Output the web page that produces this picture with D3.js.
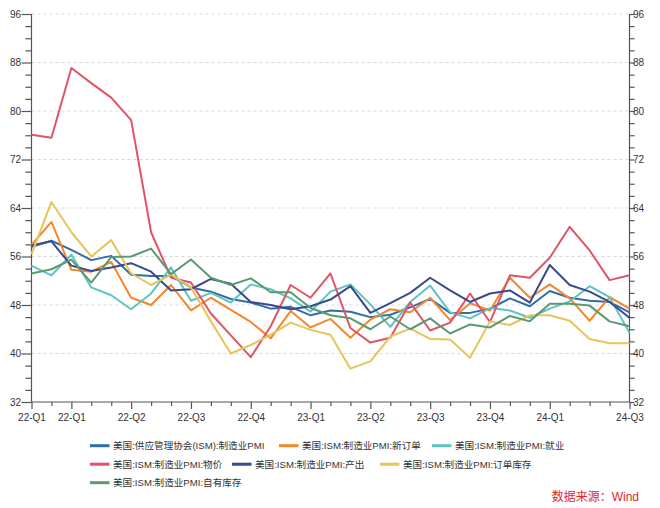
<!DOCTYPE html>
<html>
<head>
<meta charset="utf-8">
<script src="https://cdn.jsdelivr.net/npm/d3@7"></script>
<style>
  html, body { margin: 0; padding: 0; background: #fff; }
  svg { display: block; font-family: "Liberation Sans", "Noto Sans CJK SC", sans-serif; }
</style>
</head>
<body>
<svg id="chart" width="660" height="508"></svg>
<script>
// ---- data (monthly, Jan 2022 – Jul 2024) ----
const xLabels = ["22-Q1","","22-Q1","","","22-Q2","","","22-Q3","","","22-Q4","","","23-Q1","","","23-Q2","","","23-Q3","","","23-Q4","","","24-Q1","","","","24-Q3"];
const yTicks = [32, 40, 48, 56, 64, 72, 80, 88, 96];

const seriesNames = [
  "美国:供应管理协会(ISM):制造业PMI",
  "美国:ISM:制造业PMI:新订单",
  "美国:ISM:制造业PMI:就业",
  "美国:ISM:制造业PMI:物价",
  "美国:ISM:制造业PMI:产出",
  "美国:ISM:制造业PMI:订单库存",
  "美国:ISM:制造业PMI:自有库存"
];
const seriesColors = ["#2f6ea6", "#f5862a", "#5ec3c3", "#e05565", "#3b4a8a", "#e6c55a", "#5a9a70"];

const pmi        = [57.6,58.6,57.1,55.4,56.1,53.0,52.8,52.8,50.9,50.2,49.0,48.4,47.4,47.7,46.3,47.1,46.9,46.0,46.4,47.6,49.0,46.7,46.7,47.4,49.1,47.8,50.3,49.2,48.7,48.5,46.8];
const newOrders  = [57.9,61.7,53.8,53.5,55.1,49.2,48.0,51.3,47.1,49.2,47.2,45.2,42.5,47.0,44.3,45.7,42.6,45.6,47.3,46.8,49.2,45.5,48.3,47.1,52.5,49.2,51.4,49.1,45.4,49.3,47.4];
const employment = [54.5,52.9,56.3,50.9,49.6,47.3,49.9,54.2,48.7,50.0,48.4,51.4,50.6,49.1,46.9,50.2,51.4,48.1,44.4,48.5,51.2,46.8,45.8,47.5,47.1,45.9,47.4,48.6,51.1,49.3,43.4];
const prices     = [76.1,75.6,87.1,84.6,82.2,78.5,60.0,52.5,51.7,46.6,43.0,39.4,44.5,51.3,49.2,53.2,44.2,41.8,42.6,48.4,43.8,45.1,49.9,45.2,52.9,52.5,55.8,60.9,57.0,52.1,52.9];
const production = [57.8,58.5,54.5,53.6,54.2,54.9,53.5,50.4,50.6,52.3,51.5,48.5,48.0,47.3,47.8,48.9,51.1,46.7,48.3,50.0,52.5,50.4,48.5,49.9,50.4,48.4,54.6,51.3,50.2,48.5,45.9];
const backlog    = [56.4,65.0,60.0,56.0,58.7,53.2,51.3,53.0,50.9,45.3,40.0,41.4,43.1,45.1,43.9,43.1,37.5,38.7,42.8,44.1,42.4,42.3,39.3,45.3,44.7,46.3,46.3,45.4,42.4,41.7,41.7];
const inventories= [53.2,53.9,55.5,51.7,55.9,56.0,57.3,53.1,55.5,52.5,51.3,52.4,50.1,50.1,47.5,46.3,45.8,44.0,46.1,44.0,45.8,43.3,44.8,44.3,46.2,45.3,48.2,48.2,47.9,45.3,44.5];

const seriesValues = [pmi, newOrders, employment, prices, production, backlog, inventories];

// ---- layout ----
const svg = d3.select("#chart");
const mLeft = 31.5, mRight = 629.5, mTop = 14, mBottom = 402;

const x = d3.scalePoint().domain(d3.range(xLabels.length)).range([mLeft, mRight]);
const y = d3.scaleLinear().domain([32, 96]).range([mBottom, mTop]);

const allTicks = d3.range(32, 97, 2);
const axisColor = "#555";
const textColor = "#333";

// grid
svg.append("g").selectAll("line")
  .data(yTicks.filter(v => v > 32))
  .join("line")
  .attr("x1", mLeft).attr("x2", mRight)
  .attr("y1", d => y(d)).attr("y2", d => y(d))
  .attr("stroke", "#d9d9d9").attr("stroke-width", 1).attr("stroke-dasharray", "3,3");

// left axis
const gL = svg.append("g").attr("transform", `translate(${mLeft},0)`)
  .call(d3.axisLeft(y).tickValues(allTicks).tickSize(6).tickFormat(d => yTicks.includes(d) ? d : ""));
gL.selectAll(".tick line").attr("x2", d => yTicks.includes(d) ? -10 : -6);
gL.selectAll(".tick text").attr("x", -10.5);

// right axis
const gR = svg.append("g").attr("transform", `translate(${mRight},0)`)
  .call(d3.axisRight(y).tickValues(allTicks).tickSize(5).tickFormat(d => yTicks.includes(d) ? d : ""));
gR.selectAll(".tick text").attr("x", 3.5);

// bottom axis
const gB = svg.append("g").attr("transform", `translate(0,${mBottom})`)
  .call(d3.axisBottom(x).tickSize(4).tickFormat(i => xLabels[i]));
gB.selectAll(".tick line").attr("y2", i => xLabels[i] ? 7 : 4);
gB.selectAll(".tick text").attr("y", 11.5);

[gL, gR, gB].forEach(g => {
  g.select(".domain").attr("stroke", axisColor).attr("stroke-width", 1.2);
  g.selectAll(".tick line").attr("stroke", axisColor).attr("stroke-width", 1.2);
  g.selectAll(".tick text").attr("fill", textColor).attr("font-size", 10)
    .attr("font-family", "Liberation Sans, Arial, sans-serif");
});
gL.select(".domain").attr("d", `M0,${mTop}V${mBottom}`);
gR.select(".domain").attr("d", `M0,${mTop}V${mBottom}`);
gB.select(".domain").attr("d", `M${mLeft},0H${mRight}`);

// lines
const line = d3.line().x((d, i) => x(i)).y(d => y(d));
svg.append("g").selectAll("path")
  .data(seriesValues)
  .join("path")
  .attr("d", d => line(d))
  .attr("fill", "none")
  .attr("stroke", (d, i) => seriesColors[i])
  .attr("stroke-width", 2)
  .attr("stroke-linejoin", "round");

// legend
const legendRows = [[0, 1, 2], [3, 4, 5], [6]];
const legendX = [[90, 279, 432], [90, 232, 380], [90]];
const rowY = [445.7, 464.2, 482.7];
const legend = svg.append("g");
legendRows.forEach((row, r) => {
  row.forEach((k, j) => {
    const g = legend.append("g").attr("transform", `translate(${legendX[r][j]},${rowY[r]})`);
    g.append("line").attr("x1", 0).attr("x2", 19.5).attr("y1", 0).attr("y2", 0)
      .attr("stroke", seriesColors[k]).attr("stroke-width", 3);
    g.append("text").attr("x", 23).attr("y", 0).attr("dy", "0.35em")
      .attr("font-size", 9.6).attr("fill", textColor).text(seriesNames[k]);
  });
});

// source
svg.append("text").attr("x", 639).attr("y", 497).attr("dy", "0.35em")
  .attr("text-anchor", "end").attr("font-size", 12).attr("fill", "#e0262a")
  .text("数据来源：Wind");
</script>
</body>
</html>
